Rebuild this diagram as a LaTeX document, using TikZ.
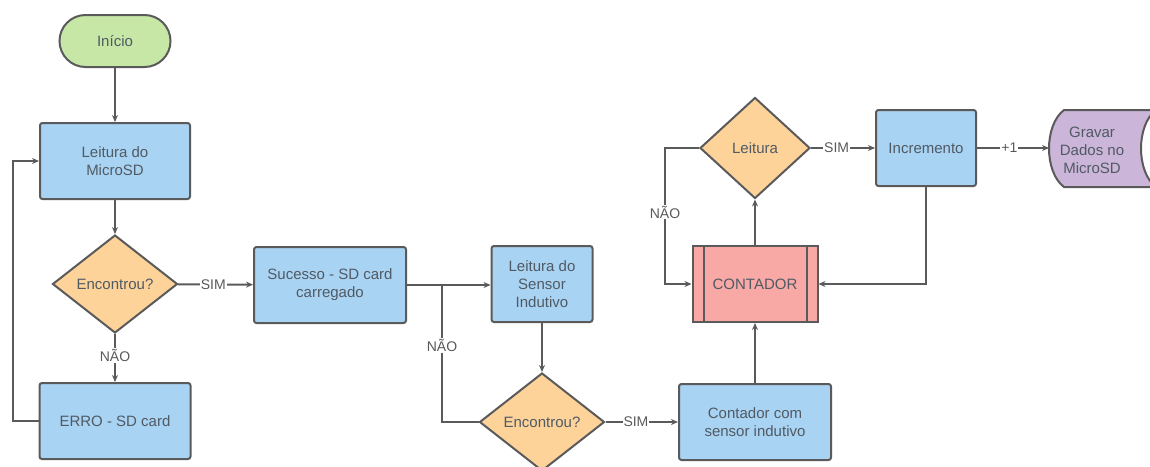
\documentclass[tikz,border=0pt]{standalone}
\usepackage{fontspec}
\setmainfont{Liberation Sans}
\usetikzlibrary{shapes.geometric,arrows.meta}
\definecolor{bord}{HTML}{5A5A5A}
\definecolor{txt}{HTML}{505A64}
\definecolor{bluef}{HTML}{A9D3F2}
\definecolor{orangef}{HTML}{FDD39A}
\definecolor{pinkf}{HTML}{F8A9A6}
\definecolor{purplef}{HTML}{CBB5D9}
\definecolor{greenf}{HTML}{C6E7A5}
\tikzset{
  base/.style={draw=bord, line width=2pt, text=txt, align=center, inner sep=0pt,
    font=\fontsize{15}{18}\selectfont},
  procbox/.style={base, fill=bluef, rounded corners=2.5pt, minimum width=#1, minimum height=76pt},
  decision/.style={base, fill=orangef, diamond, minimum width=125pt, minimum height=98pt},
  startnode/.style={base, fill=greenf, rounded corners=26pt, minimum width=111pt, minimum height=52pt},
  conn/.style={draw=bord, line width=2pt, -{Stealth[length=7pt,width=6pt]}},
  plain/.style={draw=bord, line width=2pt},
  lbl/.style={fill=white, text=bord, inner sep=1pt, font=\fontsize{14}{16}\selectfont}
}
\begin{document}
\begin{tikzpicture}[x=1pt,y=-1pt]
\useasboundingbox (0,0) rectangle (1150,466);
% nodes
\node[startnode] (ini) at (115,41) {Início};
\node[procbox=150pt] (lmsd) at (115,161) {Leitura do\\MicroSD};
\node[decision] (enc1) at (115,284) {Encontrou?};
\node[procbox=151pt] (erro) at (115,421) {ERRO - SD card};
\node[procbox=152pt] (suc) at (330,285) {Sucesso - SD card\\carregado};
\node[procbox=101pt] (lsens) at (542,284) {Leitura do\\Sensor\\Indutivo};
\node[decision] (enc2) at (542,422) {Encontrou?};
\node[procbox=152pt] (csens) at (755,422) {Contador com\\sensor indutivo};
\node[base, fill=pinkf, minimum width=125pt, minimum height=76pt] (cont) at (755,284) {CONTADOR};
\draw[bord, line width=2pt] ([xshift=12pt]cont.north west) -- ([xshift=12pt]cont.south west)
  ([xshift=-12pt]cont.north east) -- ([xshift=-12pt]cont.south east);
\node[decision, minimum width=110pt, minimum height=101pt] (leit) at (755,148) {Leitura};
\node[procbox=100pt] (inc) at (926,148) {Incremento};
% stored data shape
\draw[bord, line width=2pt, fill=purplef]
  (1064,110) -- (1156,110) .. controls (1136,125) and (1136,172) .. (1156,187)
  -- (1064,187) .. controls (1044,172) and (1044,125) .. (1064,110) -- cycle;
\node[base, draw=none, fill=none] (grav) at (1092,150) {Gravar\\Dados no\\MicroSD};
\coordinate (gravw) at (1049,148);
% connectors
\draw[conn] (ini) -- (lmsd);
\draw[conn] (lmsd) -- (enc1);
\draw[conn] (enc1) -- node[lbl, pos=0.47]{SIM} (suc);
\draw[conn] (enc1) -- node[lbl, pos=0.45]{NÃO} (erro);
\coordinate (lp) at (13,421);
\draw[conn] (erro.west) -- (lp) |- (lmsd.west);
\coordinate (jn) at (442,285);
\draw[conn] (suc.east) -- (jn) -- (lsens.west |- jn);
\draw[plain] (enc2.west) -| node[lbl, pos=0.78]{NÃO} (jn);
\draw[conn] (lsens) -- (enc2);
\draw[conn] (enc2) -- node[lbl, pos=0.42]{SIM} (csens);
\draw[conn] (csens) -- (cont);
\draw[conn] (cont) -- (leit);
\coordinate (nl) at (665,148);
\draw[conn] (leit.west) -- (nl) |- node[lbl, pos=0.235]{NÃO} (cont.west);
\draw[conn] (leit.east) -- node[lbl, pos=0.4]{SIM} (inc.west |- leit.east);
\draw[conn] (inc.south) |- (cont.east);
\draw[conn] (inc.east) -- node[lbl, pos=0.45]{+1} (gravw);
\end{tikzpicture}
\end{document}
